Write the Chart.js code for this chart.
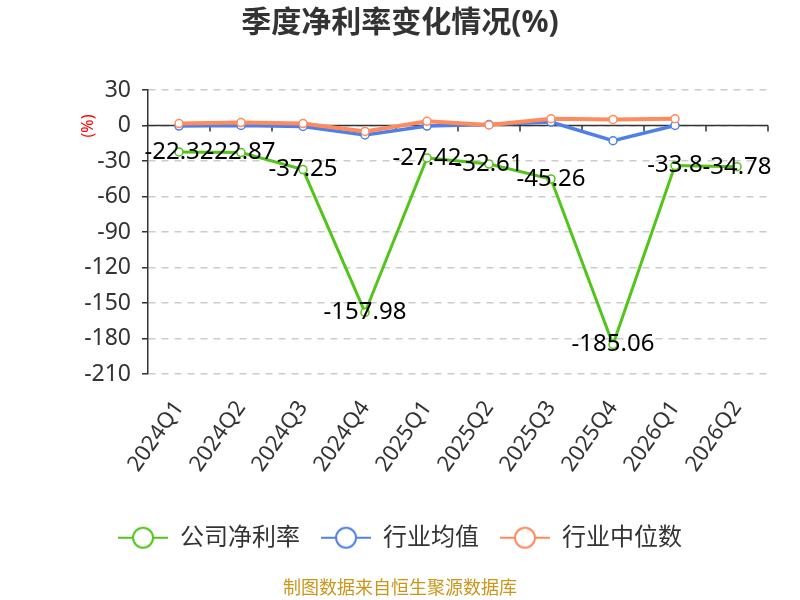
<!DOCTYPE html>
<html>
<head>
<meta charset="utf-8">
<script src="https://cdn.jsdelivr.net/npm/chart.js@4/dist/chart.umd.min.js"></script>
<style>
    html, body { margin: 0; padding: 0; background: #fff; }
    #chart { display: block; }
</style>
</head>
<body>
<canvas id="chart" width="800" height="600"></canvas>
<script>
// ── quarterly net margin vs. industry ─────────────────────────────────────

const categories = ['2024Q1', '2024Q2', '2024Q3', '2024Q4', '2025Q1', '2025Q2', '2025Q3', '2025Q4', '2026Q1', '2026Q2'];
const companyRate = [-22.32, -22.87, -37.25, -157.98, -27.42, -32.61, -45.26, -185.06, -33.8, -34.78];
const industryAvg = [-0.5, 0, -0.8, -8, -0.5, 0.8, 2.9, -12.9, 0, null];
const industryMedian = [1.6, 2.5, 1.6, -5, 3.5, 0.5, 5.7, 5.1, 5.7, null];
const seriesNames = ['公司净利率', '行业均值', '行业中位数'];
const yTicks = [30, 0, -30, -60, -90, -120, -150, -180, -210];

const FONT = '"Noto Sans", "Noto Sans CJK SC", sans-serif';
const COLORS = ['#52c41a', '#4e80e8', '#ff8a5b'];

// legend marker: a short line with an open circle on it
function legendMarker(color) {
    const c = document.createElement('canvas');
    c.width = 50;
    c.height = 24;
    const ctx = c.getContext('2d');
    ctx.strokeStyle = color;
    ctx.lineWidth = 2;
    ctx.beginPath();
    ctx.moveTo(0, 12);
    ctx.lineTo(50, 12);
    ctx.stroke();
    ctx.beginPath();
    ctx.arc(25, 12, 10, 0, Math.PI * 2);
    ctx.fillStyle = '#fff';
    ctx.fill();
    ctx.stroke();
    return c;
}

const markers = COLORS.map(legendMarker);

// solid zero line with small ticks at the category boundaries
const zeroAxis = {
    id: 'zeroAxis',
    beforeDatasetsDraw(chart) {
        const { ctx, chartArea, scales } = chart;
        const y0 = scales.y.getPixelForValue(0);
        const step = scales.x.getPixelForValue(1) - scales.x.getPixelForValue(0);
        ctx.save();
        ctx.strokeStyle = '#333';
        ctx.lineWidth = 1.5;
        ctx.beginPath();
        ctx.moveTo(chartArea.left, y0);
        ctx.lineTo(chartArea.right, y0);
        for (let i = 1; i <= categories.length; i++) {
            const px = scales.x.getPixelForValue(i - 1) + step / 2;
            ctx.moveTo(px, y0);
            ctx.lineTo(px, y0 + 6);
        }
        ctx.stroke();
        ctx.restore();
    }
};

// value labels on the company series + the red "(%)" unit
const valueLabels = {
    id: 'valueLabels',
    afterDatasetsDraw(chart) {
        const { ctx, chartArea } = chart;
        const meta = chart.getDatasetMeta(0);
        ctx.save();
        ctx.font = '24px ' + FONT;
        ctx.fillStyle = '#000';
        ctx.textAlign = 'center';
        ctx.textBaseline = 'middle';
        meta.data.forEach((pt, i) => {
            if (companyRate[i] == null) return;
            ctx.fillText(String(companyRate[i]), pt.x, pt.y);
        });

        ctx.translate(88, chartArea.top + 36);
        ctx.rotate(-Math.PI / 2);
        ctx.font = '16px ' + FONT;
        ctx.fillStyle = '#ff0000';
        ctx.fillText('(%)', 0, 0);
        ctx.restore();
    }
};

function lineDataset(label, data, color, width, order) {
    return {
        label,
        data,
        borderColor: color,
        backgroundColor: '#fff',
        borderWidth: width,
        pointRadius: 4,
        pointBorderWidth: 1.5,
        pointBackgroundColor: '#fff',
        pointBorderColor: color,
        tension: 0,
        spanGaps: false,
        order
    };
}

new Chart(document.getElementById('chart'), {
    type: 'line',
    data: {
        labels: categories,
        datasets: [
            lineDataset(seriesNames[0], companyRate, COLORS[0], 3, 1),
            lineDataset(seriesNames[1], industryAvg, COLORS[1], 3.5, 3),
            lineDataset(seriesNames[2], industryMedian, COLORS[2], 4, 2)
        ]
    },
    options: {
        responsive: false,
        animation: false,
        devicePixelRatio: 1,
        layout: { padding: { left: 32, right: 32, top: 0, bottom: 0 } },
        plugins: {
            title: {
                display: true,
                text: '季度净利率变化情况(%)',
                color: '#333',
                font: { family: FONT, size: 30, weight: 'bold' },
                padding: { top: 5.5, bottom: 48.5 }
            },
            subtitle: {
                display: true,
                position: 'bottom',
                text: '制图数据来自恒生聚源数据库',
                color: '#c9961a',
                font: { family: FONT, size: 18 },
                padding: { top: 18.5, bottom: 0.2 }
            },
            legend: {
                position: 'bottom',
                labels: {
                    usePointStyle: true,
                    pointStyleWidth: 50,
                    padding: 21,
                    color: '#333',
                    font: { family: FONT, size: 24 },
                    generateLabels(chart) {
                        return chart.data.datasets.map((ds, i) => ({
                            text: ds.label,
                            pointStyle: markers[i],
                            fontColor: '#333',
                            strokeStyle: COLORS[i],
                            fillStyle: '#fff',
                            lineWidth: 0,
                            datasetIndex: i,
                            hidden: false
                        }));
                    }
                }
            },
            tooltip: { enabled: false }
        },
        scales: {
            x: {
                offset: true,
                grid: { display: false },
                border: { display: false },
                ticks: {
                    color: '#333',
                    font: { family: FONT, size: 22 },
                    maxRotation: 55,
                    minRotation: 55,
                    padding: 14,
                    autoSkip: false
                },
                afterFit(scale) { scale.height = 130.7; }
            },
            y: {
                min: -210,
                max: 30,
                afterBuildTicks(scale) {
                    scale.ticks = yTicks.map(v => ({ value: v }));
                },
                grid: {
                    color: '#cccccc',
                    lineWidth: 1.5,
                    tickColor: '#333',
                    tickLength: 6,
                    tickWidth: 1.5,
                    tickBorderDash: [1, 0]
                },
                border: { display: true, color: '#333', width: 1.5, dash: [7, 6] },
                ticks: {
                    color: '#333',
                    font: { family: FONT, size: 23 },
                    padding: 11
                },
                afterFit(scale) { scale.width = 116; }
            }
        }
    },
    plugins: [zeroAxis, valueLabels]
});
</script>
</body>
</html>
